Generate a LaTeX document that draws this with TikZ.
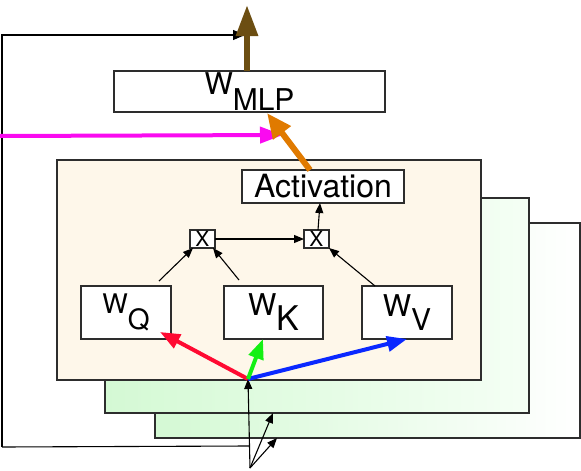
\documentclass[tikz,border=0pt]{standalone}
\usepackage{fontspec}
\setmainfont{TeX Gyre Heros}
\usetikzlibrary{arrows.meta,calc}
\definecolor{cream}{RGB}{254,247,234}
\definecolor{lgreen}{RGB}{212,249,212}
\definecolor{brownarr}{RGB}{108,78,18}
\definecolor{orangearr}{RGB}{224,122,0}
\definecolor{magarr}{RGB}{250,10,240}
\definecolor{redarr}{RGB}{255,10,50}
\definecolor{greenarr}{RGB}{20,240,20}
\definecolor{bluearr}{RGB}{10,40,255}
\definecolor{edge}{RGB}{45,45,45}
\newcommand\myfs[1]{\fontsize{#1}{#1}\selectfont}
\begin{document}
\begin{tikzpicture}[x=1pt,y=-1pt,
  box/.style={draw=edge, line width=1.3pt, fill=white, inner sep=0pt, outer sep=0pt},
  layerbox/.style={draw=edge, line width=1.3pt, inner sep=0pt, outer sep=0pt},
  thinarrow/.style={-{Triangle[length=10pt,width=8pt]}, line width=1.1pt, black},
  thinline/.style={line width=1.1pt, black},
  colarrow/.style={-{Triangle[length=20pt,width=15pt]}, line width=4pt},
]
\useasboundingbox (0,0) rectangle (581,471);
% stacked layers
\node[layerbox, left color=lgreen, right color=white, minimum width=425pt, minimum height=215pt] (l3) at (367.5,330.5) {};
\node[layerbox, left color=lgreen, right color=green!4, minimum width=424pt, minimum height=215pt] (l2) at (317,305.5) {};
\node[layerbox, fill=cream, minimum width=424pt, minimum height=220pt] (l1) at (269,270) {};
% boxes
\node[box, minimum width=271pt, minimum height=41pt] (mlp) at (249.5,91.5) {\myfs{30}W\raisebox{-16pt}{\myfs{30}MLP}};
\node[box, minimum width=162pt, minimum height=33pt] (act) at (323,186.5) {\myfs{32}Activation};
\node[box, minimum width=25pt, minimum height=18pt] (x1) at (202.5,239) {\myfs{21}X};
\node[box, minimum width=25pt, minimum height=18pt] (x2) at (316.5,239) {\myfs{21}X};
\node[box, minimum width=90pt, minimum height=53pt] (wq) at (126,312.5) {\myfs{27}W\raisebox{-16pt}{\myfs{28}Q}};
\node[box, minimum width=99pt, minimum height=53pt] (wk) at (273.5,312.5) {\myfs{30}W\raisebox{-15pt}{\myfs{34}K}};
\node[box, minimum width=90pt, minimum height=53pt] (wv) at (407,312.5) {\myfs{30}W\raisebox{-14pt}{\myfs{30}V}};
% coordinates
\coordinate (o) at (248,379);
\coordinate (base) at (250,468);
\coordinate (loopc) at (249,446);
\coordinate (t2) at (273,413);
\coordinate (t3) at (277,438);
\coordinate (lb) at (2,447);
\coordinate (lt) at (2,35);
\coordinate (top) at (247,5);
\coordinate (mag0) at (0,136);
\coordinate (magend) at (283,135);
% inner connectors
\draw[thinarrow] ($(wq.north)+(33,-5)$) -- ($(x1.south west)+(3,0)$);
\draw[thinarrow] ($(wk.north)+(-34.5,-6)$) -- ($(x1.south east)+(-2,0)$);
\draw[thinarrow] ($(wv.north west)+(13,0)$) -- (x2.south east);
\draw[thinarrow] (x1.east) -- (x2.west);
\draw[thinarrow] ($(x2.north)+(1.5,0)$) -- ($(act.south)+(-3,0)$);
% inputs
\draw[thinarrow] (base) -- (o);
\draw[thinarrow] (base) -- (t2);
\draw[thinarrow] (base) -- (t3);
\draw[thinline] (loopc) -- (lb);
\draw[-{Triangle[length=12pt,width=10pt]}, line width=1.1pt] (lb) -- (lt) -- ($(top|-lt)+(-2,0)$);
% coloured arrows
\draw[colarrow, redarr] (o) -- ($(wq.south east)+(-11,-7)$);
\draw[colarrow, bluearr] (o) -- (wv.south);
\draw[colarrow, greenarr] (o) -- ($(wk.south)+(-10.5,0)$);
\draw[-{Triangle[length=23pt,width=16pt]}, line width=4pt, magarr] (mag0) -- (magend);
\draw[-{Triangle[length=25pt,width=21pt]}, line width=6pt, orangearr] ($(act.north)+(-13,0)$) -- ($(mlp.south)+(17.5,1)$);
\draw[-{Triangle[length=31pt,width=21pt]}, line width=6pt, brownarr] ($(mlp.north)+(-2.5,0)$) -- (top);
\end{tikzpicture}
\end{document}
